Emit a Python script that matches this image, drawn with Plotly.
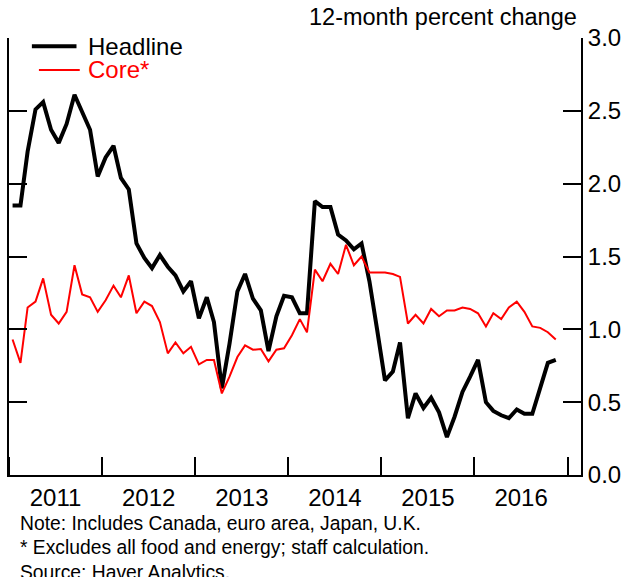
import pandas as pd
import plotly.graph_objects as go

# Monthly observations, Jan 2011 - Nov 2016 (plotted mid-month)
months = pd.date_range("2011-01-01", "2016-11-01", freq="MS") + pd.Timedelta(days=14)

headline = [
    1.85, 1.85, 2.22, 2.51, 2.56, 2.37, 2.28, 2.41, 2.61, 2.49, 2.37, 2.05,
    2.18, 2.26, 2.04, 1.96, 1.59, 1.49, 1.42, 1.51, 1.43, 1.37, 1.26, 1.33,
    1.075, 1.22, 1.05, 0.595, 0.90, 1.26, 1.38, 1.21, 1.13, 0.85, 1.09, 1.23,
    1.22, 1.11, 1.11, 1.88, 1.84, 1.84, 1.65, 1.61, 1.55, 1.59, 1.33, 1.00,
    0.65, 0.71, 0.91, 0.39, 0.56, 0.46, 0.53, 0.43, 0.26, 0.40, 0.57, 0.675,
    0.79, 0.50, 0.44, 0.41, 0.39, 0.45, 0.42, 0.42, 0.595, 0.77, 0.79,
]

core = [
    0.93, 0.77, 1.15, 1.19, 1.35, 1.10, 1.04, 1.12, 1.44, 1.24, 1.22, 1.12,
    1.20, 1.30, 1.22, 1.37, 1.11, 1.19, 1.16, 1.05, 0.835, 0.91, 0.835, 0.88,
    0.76, 0.79, 0.79, 0.56, 0.675, 0.81, 0.89, 0.86, 0.865, 0.78, 0.86, 0.87,
    0.96, 1.07, 0.98, 1.41, 1.33, 1.45, 1.38, 1.58, 1.44, 1.50, 1.39, 1.39,
    1.39, 1.38, 1.36, 1.04, 1.10, 1.04, 1.14, 1.09, 1.13, 1.13, 1.15, 1.14,
    1.11, 1.02, 1.11, 1.07, 1.15, 1.19, 1.12, 1.02, 1.01, 0.98, 0.93,
]

series_names = ["Headline", "Core*"]
series_colors = ["black", "#ff0000"]

notes = [
    "Note: Includes Canada, euro area, Japan, U.K.",
    "* Excludes all food and energy; staff calculation.",
    "Source: Haver Analytics.",
]

FONT = "Liberation Sans, Arial, sans-serif"

fig = go.Figure()
fig.add_trace(go.Scatter(x=months, y=headline, mode="lines", name=series_names[0],
                         line=dict(color=series_colors[0], width=4)))
fig.add_trace(go.Scatter(x=months, y=core, mode="lines", name=series_names[1],
                         line=dict(color=series_colors[1], width=2)))

fig.update_layout(
    width=628, height=577,
    margin=dict(l=7, r=47, t=38, b=102),
    plot_bgcolor="white", paper_bgcolor="white",
    showlegend=False,
    font=dict(family=FONT, size=24, color="black"),
    xaxis=dict(
        type="date", range=["2011-01-01", "2017-02-22"],
        showline=True, linecolor="black", linewidth=2,
        ticks="inside", ticklen=18, tickwidth=2, tickcolor="black",
        dtick="M12", tick0="2011-01-01", tickformat="%Y", ticklabelmode="period",
        showgrid=False, zeroline=False,
        tickfont=dict(size=24),
    ),
    yaxis=dict(
        side="right", range=[0, 3], dtick=0.5, tickformat=".1f",
        showline=True, mirror="ticks", linecolor="black", linewidth=2,
        ticks="inside", ticklen=18, tickwidth=2, tickcolor="black",
        showgrid=False, zeroline=False,
        tickfont=dict(size=24),
    ),
)

# Units label above the plot
fig.add_annotation(text="12-month percent change", xref="paper", yref="paper",
                   x=0.9965, y=1.048, xanchor="right", yanchor="middle",
                   showarrow=False, font=dict(size=23.5))

# Legend keys
legend_rows = [(0.040, 0.118, 0.981), (0.0523, 0.1237, 0.927)]
for (x0, x1, yy), name, color, w in zip(legend_rows, series_names, series_colors, [4, 2]):
    fig.add_shape(type="line", xref="paper", yref="paper", x0=x0, x1=x1, y0=yy, y1=yy,
                  line=dict(color=color, width=w))
    fig.add_annotation(text=name, xref="paper", yref="paper", x=0.134, y=yy,
                       xanchor="left", yanchor="middle", showarrow=False,
                       font=dict(size=24, color=color))

# Footnotes
for i, line in enumerate(notes):
    fig.add_annotation(text=line, xref="paper", yref="paper", x=0.016, y=-0.111 - 0.0555 * i,
                       xanchor="left", yanchor="middle", showarrow=False,
                       font=dict(size=19.3))

fig.write_html("out.html")
